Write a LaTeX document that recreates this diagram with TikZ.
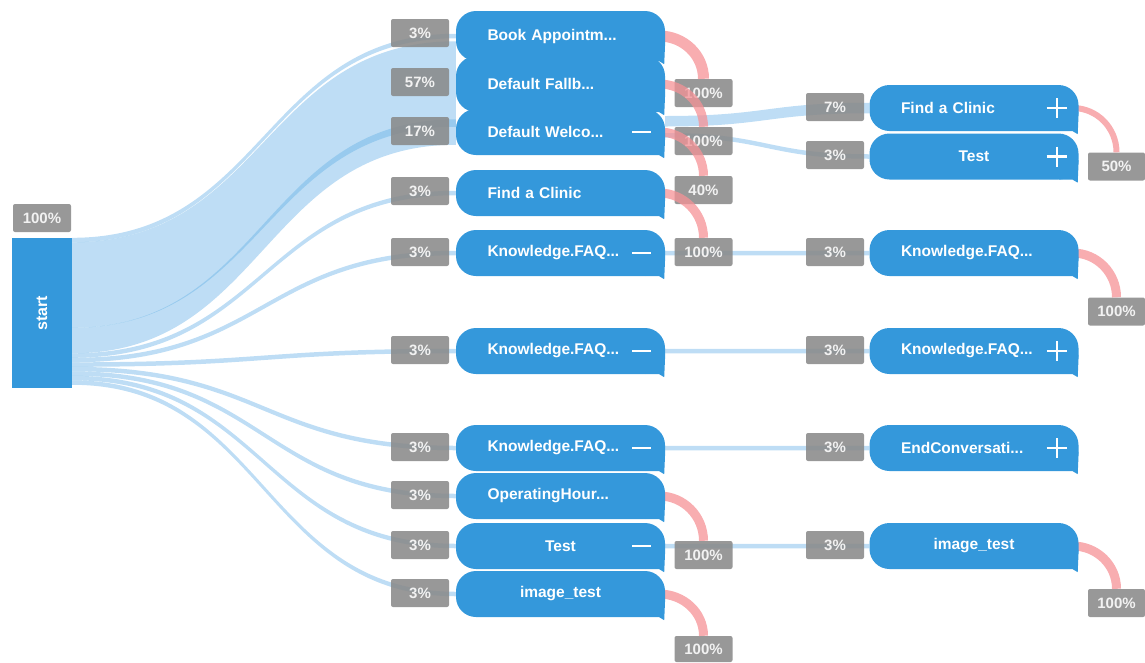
\documentclass[tikz,border=0pt]{standalone}
\usepackage{fontspec}
\setmainfont{Liberation Sans}
\usetikzlibrary{calc}
\definecolor{nodeblue}{RGB}{52,152,219}
\definecolor{flowblue}{RGB}{100,175,230}
\definecolor{exitpink}{RGB}{245,145,150}
\definecolor{labgray}{RGB}{138,138,138}
\definecolor{labtext}{RGB}{242,242,242}
\pgfdeclarelayer{labels}
\pgfdeclarelayer{flows}
\pgfdeclarelayer{arcs}
\pgfsetlayers{flows,labels,arcs,main}
\tikzset{
  bubblenode/.style={fill=nodeblue, rounded corners=20pt, minimum width=209pt, minimum height=46pt,
    text=white, font=\bfseries\fontsize{15.5}{17}\selectfont, text width=146pt, align=left, inner sep=0pt},
  pctbox/.style={fill=labgray, fill opacity=0.88, text opacity=1, rounded corners=2pt, minimum width=58pt, minimum height=28pt,
    text=labtext, font=\bfseries\fontsize{15}{17}\selectfont, inner sep=0pt},
  flowrib/.style={fill=flowblue, fill opacity=0.42},
  exitarc/.style={draw=exitpink, line width=9pt, draw opacity=0.75},
  signline/.style={draw=white, line width=2.4pt},
}
\newcommand\ribbon[6]{%
  \fill[flowrib] ($#1+(0,#2)$) .. controls +(#6,0) and +(-#6,0) .. ($#3+(0,#4)$)
    -- ($#3+(0,#4+#5)$) .. controls +(-#6,0) and +(#6,0) .. ($#1+(0,#2+#5)$) -- cycle;}
\newcommand\bubtail[1]{%
  \fill[nodeblue] ($(#1.south east)+(0,-20)$) -- ($(#1.south east)+(-1,3)$) -- ($(#1.south east)+(-6,0)$)
    -- ($(#1.south east)+(-20,0)$) -- cycle;}
\newcommand\minussign[1]{\draw[signline] ($(#1.east)+(-33,0)$) -- ($(#1.east)+(-14,0)$);}
\newcommand\plussign[1]{\draw[signline] ($(#1.east)+(-32,0)$) -- ($(#1.east)+(-12,0)$)
  ($(#1.east)+(-22,-10)$) -- ($(#1.east)+(-22,10)$);}
\begin{document}
\begin{tikzpicture}[x=1pt,y=-1pt]
\useasboundingbox (0,0) rectangle (1145,662);

% start
\node[fill=nodeblue, minimum width=60pt, minimum height=150pt, inner sep=0pt] (start) at (42,313) {};
\node[rotate=90, text=white, font=\bfseries\fontsize{16}{18}\selectfont] (starttext) at (start) {start};

% middle column
\node[bubblenode, minimum height=50pt] (m1) at (560.5,36) {Book Appointm...};
\bubtail{m1}
\node[bubblenode, minimum height=56pt] (m2) at (560.5,84) {Default Fallb...};
\bubtail{m2}
\node[bubblenode] (m3) at (560.5,132) {Default Welco...};
\bubtail{m3}
\node[bubblenode] (m4) at (560.5,193) {Find a Clinic};
\bubtail{m4}
\node[bubblenode] (m5) at (560.5,253) {Knowledge.FAQ...};
\bubtail{m5}
\node[bubblenode] (m6) at (560.5,351) {Knowledge.FAQ...};
\bubtail{m6}
\node[bubblenode] (m7) at (560.5,448) {Knowledge.FAQ...};
\bubtail{m7}
\node[bubblenode] (m8) at (560.5,496) {OperatingHour...};
\bubtail{m8}
\node[bubblenode, align=center] (m9) at (560.5,546) {Test};
\bubtail{m9}
\node[bubblenode, align=center] (m10) at (560.5,594) {image\_test};
\bubtail{m10}
\minussign{m3}\minussign{m5}\minussign{m6}\minussign{m7}\minussign{m9}

% right column
\node[bubblenode] (r1) at (974,108) {Find a Clinic};
\bubtail{r1}
\node[bubblenode, align=center] (r2) at (974,156.5) {Test};
\bubtail{r2}
\node[bubblenode] (r3) at (974,253) {Knowledge.FAQ...};
\bubtail{r3}
\node[bubblenode] (r4) at (974,351) {Knowledge.FAQ...};
\bubtail{r4}
\node[bubblenode] (r5) at (974,448) {EndConversati...};
\bubtail{r5}
\node[bubblenode, align=center] (r6) at (974,546) {image\_test};
\bubtail{r6}
\plussign{r1}\plussign{r2}\plussign{r4}\plussign{r5}

% labels
\begin{pgfonlayer}{labels}
\node[pctbox] (s100) at (42,218) {100\%};
\node[pctbox] (l1) at (420,33) {3\%};
\node[pctbox] (l2) at (420,82) {57\%};
\node[pctbox] (l3) at (420,131) {17\%};
\node[pctbox] (l4) at (420,191) {3\%};
\node[pctbox] (l5) at (420,252) {3\%};
\node[pctbox] (l6) at (420,350) {3\%};
\node[pctbox] (l7) at (420,447) {3\%};
\node[pctbox] (l8) at (420,495) {3\%};
\node[pctbox] (l9) at (420,545) {3\%};
\node[pctbox] (l10) at (420,593) {3\%};
\node[pctbox] (e1) at (703.5,93) {100\%};
\node[pctbox] (e2) at (703.5,141) {100\%};
\node[pctbox] (e3) at (703.5,190) {40\%};
\node[pctbox] (e4) at (703.5,252) {100\%};
\node[pctbox] (e8) at (703.5,555) {100\%};
\node[pctbox, minimum height=26pt] (e10) at (703.5,649) {100\%};
\node[pctbox] (rl1) at (835,107) {7\%};
\node[pctbox] (rl2) at (835,155) {3\%};
\node[pctbox] (rl3) at (835,252) {3\%};
\node[pctbox] (rl4) at (835,350) {3\%};
\node[pctbox] (rl5) at (835,447) {3\%};
\node[pctbox] (rl6) at (835,545) {3\%};
\node[pctbox, minimum width=57pt] (re1) at (1116.5,166.5) {50\%};
\node[pctbox, minimum width=57pt] (re3) at (1116.5,311.5) {100\%};
\node[pctbox, minimum width=57pt] (re6) at (1116.5,603) {100\%};
\end{pgfonlayer}

% flows
\begin{pgfonlayer}{flows}
\ribbon{(start.north east)}{0}{(m1.west)}{-2.25}{4.5}{192}
\ribbon{(start.north east)}{4.5}{(m2.west)}{-42.75}{85.5}{192}
\ribbon{(start.north east)}{90}{(m3.west)}{-12.75}{25.5}{192}
\ribbon{(start.north east)}{115.5}{(m4.west)}{-2.25}{4.5}{192}
\ribbon{(start.north east)}{120}{(m5.west)}{-2.25}{4.5}{192}
\ribbon{(start.north east)}{124.5}{(m6.west)}{-2.25}{4.5}{192}
\ribbon{(start.north east)}{129}{(m7.west)}{-2.25}{4.5}{192}
\ribbon{(start.north east)}{133.5}{(m8.west)}{-2.25}{4.5}{192}
\ribbon{(start.north east)}{138}{(m9.west)}{-2.25}{4.5}{192}
\ribbon{(start.north east)}{142.5}{(m10.west)}{-2.25}{4.5}{192}
\ribbon{(m3.east)}{-16}{(r1.west)}{-5.25}{10.5}{102}
\ribbon{(m3.east)}{1}{(r2.west)}{-2.25}{4.5}{102}
\ribbon{(m5.east)}{-2.25}{(r3.west)}{-2.25}{4.5}{102}
\ribbon{(m6.east)}{-2.25}{(r4.west)}{-2.25}{4.5}{102}
\ribbon{(m7.east)}{-2.25}{(r5.west)}{-2.25}{4.5}{102}
\ribbon{(m9.east)}{-2.25}{(r6.west)}{-2.25}{4.5}{102}
\end{pgfonlayer}

% exit arcs
\begin{pgfonlayer}{arcs}
\draw[exitarc, line width=11pt] ($(m1.east)+(-6,0)$) to[out=0,in=90] (e1.north);
\draw[exitarc] ($(m2.east)+(-6,0)$) to[out=0,in=90] (e2.north);
\draw[exitarc] ($(m3.east)+(-6,0)$) to[out=0,in=90] (e3.north);
\draw[exitarc] ($(m4.east)+(-6,0)$) to[out=0,in=90] (e4.north);
\draw[exitarc] ($(m8.east)+(-6,0)$) to[out=0,in=90] (e8.north);
\draw[exitarc] ($(m10.east)+(-6,0)$) to[out=0,in=90] (e10.north);
\draw[exitarc, line width=6pt] ($(r1.east)+(-6,0)$) to[out=0,in=90] (re1.north);
\draw[exitarc] ($(r3.east)+(-6,0)$) to[out=0,in=90] (re3.north);
\draw[exitarc] ($(r6.east)+(-6,0)$) to[out=0,in=90] (re6.north);
\end{pgfonlayer}
\end{tikzpicture}
\end{document}
